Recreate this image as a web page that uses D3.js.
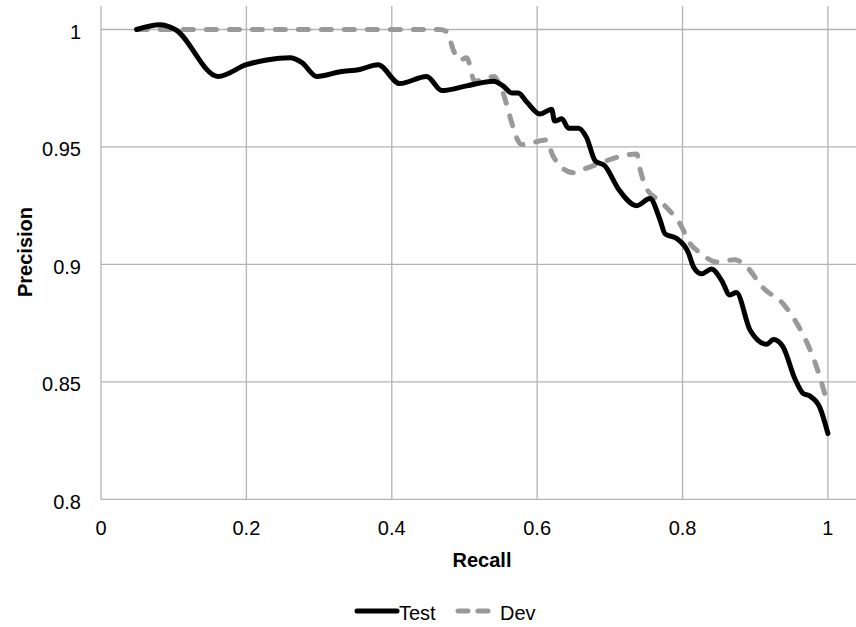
<!DOCTYPE html>
<html>
<head>
<meta charset="utf-8">
<script src="https://cdn.jsdelivr.net/npm/d3@7"></script>
<style>
  body { margin: 0; background: #fff; }
  text { font-family: "Liberation Sans", Arial, sans-serif; fill: #000; }
</style>
</head>
<body>
<div id="chart"></div>
<script>
const SVG_WIDTH = 856;
const SVG_HEIGHT = 627;
const PLOT = { LEFT: 101, RIGHT: 857, TOP: 6, BOTTOM: 499.3 };

// data
const testRecall = [0.049, 0.081, 0.102, 0.161, 0.200, 0.228, 0.260, 0.276, 0.297, 0.329, 0.356, 0.381,
  0.411, 0.448, 0.469, 0.503, 0.540, 0.553, 0.565, 0.574, 0.586, 0.604, 0.620, 0.624, 0.634, 0.643,
  0.657, 0.668, 0.680, 0.693, 0.712, 0.737, 0.755, 0.769, 0.776, 0.792, 0.808, 0.815, 0.826, 0.840,
  0.854, 0.865, 0.874, 0.893, 0.916, 0.925, 0.938, 0.955, 0.966, 0.975, 0.989, 1.000];
const testPrecision = [1.000, 1.002, 1.000, 0.980, 0.985, 0.987, 0.988, 0.986, 0.980, 0.982, 0.983, 0.985,
  0.977, 0.980, 0.974, 0.976, 0.978, 0.976, 0.973, 0.973, 0.969, 0.964, 0.966, 0.961, 0.962, 0.958,
  0.958, 0.954, 0.944, 0.942, 0.932, 0.925, 0.928, 0.919, 0.913, 0.911, 0.905, 0.899, 0.896, 0.898,
  0.893, 0.887, 0.888, 0.872, 0.866, 0.868, 0.865, 0.851, 0.845, 0.844, 0.839, 0.828];

const devRecall = [0.050, 0.466, 0.476, 0.485, 0.494, 0.503, 0.514, 0.528, 0.541, 0.549, 0.579, 0.613,
  0.622, 0.650, 0.668, 0.737, 0.742, 0.751, 0.769, 0.790, 0.797, 0.810, 0.824, 0.847, 0.872, 0.888,
  0.911, 0.939, 0.957, 0.975, 0.989, 1.000];
const devPrecision = [1.000, 1.000, 0.999, 0.991, 0.987, 0.988, 0.978, 0.979, 0.980, 0.976, 0.951, 0.953,
  0.946, 0.939, 0.941, 0.947, 0.940, 0.932, 0.927, 0.920, 0.917, 0.909, 0.905, 0.901, 0.902, 0.899,
  0.890, 0.883, 0.875, 0.864, 0.852, 0.840];

const xTicks = [0, 0.2, 0.4, 0.6, 0.8, 1];
const yTicks = [0.8, 0.85, 0.9, 0.95, 1];
const xTickLabels = ["0", "0.2", "0.4", "0.6", "0.8", "1"];
const yTickLabels = ["0.8", "0.85", "0.9", "0.95", "1"];

const GRID = "#b3b3b3";
const DEV_GRAY = "#999999";

const svg = d3.select("#chart").append("svg")
  .attr("width", SVG_WIDTH)
  .attr("height", SVG_HEIGHT);

const x = d3.scaleLinear().domain([0, 1.04]).range([PLOT.LEFT, PLOT.RIGHT]);
const y = d3.scaleLinear().domain([0.8, 1.01]).range([PLOT.BOTTOM, PLOT.TOP]);

// grid
svg.append("g").selectAll("line").data(xTicks).enter().append("line")
  .attr("x1", d => x(d)).attr("x2", d => x(d))
  .attr("y1", y(1.01)).attr("y2", y(0.8))
  .attr("stroke", GRID).attr("stroke-width", 1.3);

svg.append("g").selectAll("line").data(yTicks).enter().append("line")
  .attr("x1", x(0)).attr("x2", PLOT.RIGHT)
  .attr("y1", d => y(d)).attr("y2", d => y(d))
  .attr("stroke", GRID).attr("stroke-width", 1.3);

// tick labels
svg.append("g").selectAll("text").data(yTicks).enter().append("text")
  .attr("x", 81)
  .attr("y", d => y(d))
  .attr("dy", "0.46em")
  .attr("text-anchor", "end")
  .style("font-size", "20px")
  .text((d, i) => yTickLabels[i]);

svg.append("g").selectAll("text").data(xTicks).enter().append("text")
  .attr("x", d => x(d))
  .attr("y", 535)
  .attr("text-anchor", "middle")
  .style("font-size", "20px")
  .text((d, i) => xTickLabels[i]);

// axis titles
svg.append("text")
  .attr("x", 482).attr("y", 567)
  .attr("text-anchor", "middle")
  .style("font-size", "20px").style("font-weight", "bold")
  .text("Recall");

svg.append("text")
  .attr("transform", "translate(32,252) rotate(-90)")
  .attr("text-anchor", "middle")
  .style("font-size", "20px").style("font-weight", "bold")
  .text("Precision");

// lines
const line = d3.line().x(d => x(d[0])).y(d => y(d[1])).curve(d3.curveMonotoneX);

svg.append("path")
  .datum(devRecall.map((r, i) => [r, devPrecision[i]]))
  .attr("d", line)
  .attr("fill", "none")
  .attr("stroke", DEV_GRAY)
  .attr("stroke-width", 5)
  .attr("stroke-linecap", "round")
  .attr("stroke-dasharray", "10,13");

svg.append("path")
  .datum(testRecall.map((r, i) => [r, testPrecision[i]]))
  .attr("d", line)
  .attr("fill", "none")
  .attr("stroke", "#000")
  .attr("stroke-width", 5)
  .attr("stroke-linejoin", "round")
  .attr("stroke-linecap", "round");

// legend
const legend = svg.append("g");
legend.append("line")
  .attr("x1", 357).attr("x2", 397).attr("y1", 611).attr("y2", 611)
  .attr("stroke", "#000").attr("stroke-width", 5).attr("stroke-linecap", "round");
legend.append("text")
  .attr("x", 399).attr("y", 620)
  .style("font-size", "20px")
  .text("Test");
legend.append("line")
  .attr("x1", 458).attr("x2", 494).attr("y1", 611).attr("y2", 611)
  .attr("stroke", DEV_GRAY).attr("stroke-width", 5).attr("stroke-linecap", "round")
  .attr("stroke-dasharray", "10,10");
legend.append("text")
  .attr("x", 500).attr("y", 620)
  .style("font-size", "20px")
  .text("Dev");
</script>
</body>
</html>
